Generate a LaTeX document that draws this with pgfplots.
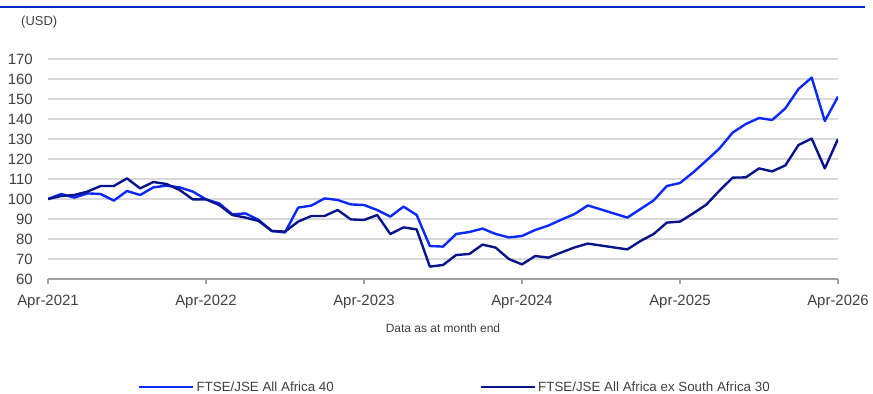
\documentclass[border=0pt]{standalone}
\usepackage{pgfplots}
\pgfplotsset{compat=1.18}
\usepackage{pgfplotstable}
\usepackage{fontspec}
\setmainfont{Liberation Sans}
\definecolor{lineA}{RGB}{10,40,255}
\definecolor{lineB}{RGB}{8,20,140}
\definecolor{gridc}{RGB}{217,217,217}
\definecolor{axc}{RGB}{160,160,160}
\definecolor{txt}{RGB}{64,64,64}
\definecolor{rule}{RGB}{0,40,200}
\pgfplotstableread{
m a b
0 100 100
1 102.5 101.5
2 100.7 102
3 102.8 103.7
4 102.5 106.5
5 99.2 106.5
6 104 110.3
7 102 105.3
8 105.8 108.5
9 106.7 107.5
10 105.8 104.5
11 103.7 99.8
12 99.8 99.8
13 97.8 97
14 92.3 92
15 92.8 90.7
16 89.5 89
17 84 84
18 83.3 83.7
19 95.7 88.7
20 96.7 91.5
21 100.3 91.5
22 99.5 94.5
23 97.3 89.8
24 97 89.5
25 94.5 92
26 91.2 82.5
27 96.2 85.8
28 92 84.8
29 76.5 66.2
30 76.2 67
31 82.5 72
32 83.5 72.5
33 85.2 77.2
34 82.5 75.7
35 80.8 70
36 81.5 67.3
37 84.5 71.5
38 86.7 70.7
39 89.7 73.3
40 92.5 75.8
41 96.8 77.7
44 90.7 74.8
45 95 79
46 99.3 82.5
47 106.5 88.2
48 108 88.7
49 113.3 92.8
50 119.2 97.2
51 125.3 104.2
52 133.2 110.7
53 137.5 110.8
54 140.5 115.3
55 139.5 113.8
56 145.3 116.8
57 155 127
58 160.7 130.2
59 139 115.3
60 151.2 130
}\data
\begin{document}
\begin{tikzpicture}
\path[use as bounding box] (0,0) rectangle (873bp,394bp);
\draw[rule, line width=1.3bp] (0,387bp) -- (865bp,387bp);
\node[anchor=west, inner sep=0, text=txt, font=\fontsize{13}{15}\selectfont] at (21bp,372bp) {(USD)};
\begin{axis}[
  at={(48bp,115bp)}, anchor=south west,
  scale only axis, width=790bp, height=220bp,
  xmin=0, xmax=60, ymin=60, ymax=170,
  xtick={0,12,24,36,48,60},
  xticklabels={Apr-2021,Apr-2022,Apr-2023,Apr-2024,Apr-2025,Apr-2026},
  ytick={60,70,...,170},
  axis lines*=left,
  y axis line style={draw=none},
  x axis line style={draw=axc, line width=1.2bp},
  xtick style={draw=axc, line width=1.2bp},
  ytick style={draw=none},
  tick align=outside,
  major tick length=5bp,
  ymajorgrids,
  grid style={draw=gridc, line width=1.2bp},
  /pgf/number format/assume math mode=true,
  ticklabel style={text=txt, font=\fontsize{15}{17}\selectfont},
  yticklabel style={inner sep=0pt, anchor=east, xshift=-10bp},
  xticklabel style={inner sep=0pt, anchor=north, yshift=-11bp},
  xlabel={Data as at month end},
  xlabel style={inner sep=0pt, anchor=center, text=txt, font=\fontsize{12}{14}\selectfont, at={(axis description cs:0.5,0)}, yshift=-49bp},
  legend columns=2,
  legend style={draw=none, fill=none, inner sep=0pt, at={(axis description cs:0.1139,-0.491)}, anchor=west,
     font=\fontsize{13.4}{15}\selectfont, text=txt,
     /tikz/every even column/.append style={column sep=144bp}},
  legend image code/.code={\draw[#1] (0bp,0bp) -- (54bp,0bp);},
  legend cell align=left,
]
\addplot[lineA, line width=2.4bp, line join=round] table[x=m, y=a] {\data};
\addlegendentry{FTSE/JSE All Africa 40}
\addplot[lineB, line width=2.4bp, line join=round] table[x=m, y=b] {\data};
\addlegendentry{FTSE/JSE All Africa ex South Africa 30}
\end{axis}
\end{tikzpicture}
\end{document}
